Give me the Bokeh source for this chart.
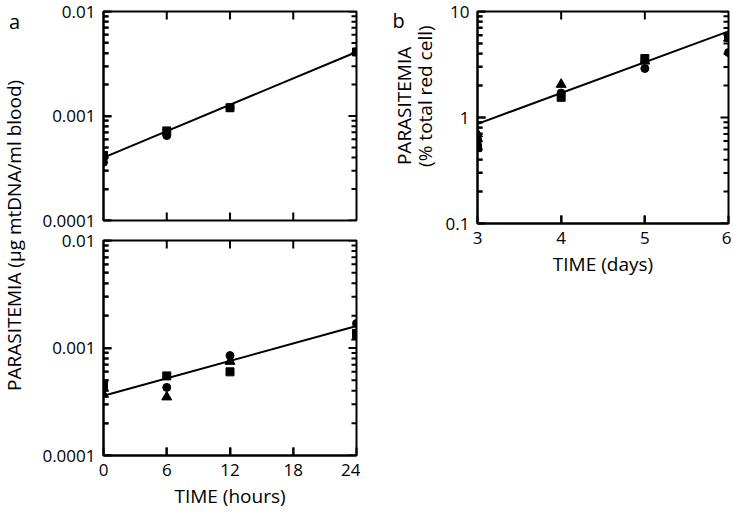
from bokeh.plotting import figure
from bokeh.models import FixedTicker, Label, Range1d
from bokeh.layouts import row, column
from bokeh.embed import file_html
from bokeh.resources import INLINE
import math

FONT = "Open Sans"

# ---------------- data ----------------
# Panel a (top): time in hours
a1_t = [0, 6, 12, 24]
a1_square = [0.00042, 0.00072, 0.0012, 0.0041]
a1_circle = [0.00036, 0.00065, 0.0012, 0.0041]
a1_fit_t = [0, 24]
a1_fit = [0.00040, 0.0041]

# Panel a (bottom)
a2_t = [0, 6, 12, 24]
a2_square = [0.00045, 0.00055, 0.00060, 0.00137]
a2_circle = [0.00043, 0.00043, 0.00085, 0.00169]
a2_triangle = [0.00037, 0.00035, 0.00075, 0.00126]
a2_fit_t = [0, 24]
a2_fit = [0.00036, 0.0016]

# Panel b: time in days, % parasitemia
b_t = [3, 4, 5, 6]
b_square = [0.52, 1.55, 3.6, 5.7]
b_circle = [0.62, 1.7, 2.9, 4.1]
b_triangle = [0.70, 2.05, 3.4, 5.6]
b_fit_t = [3, 6]
b_fit = [0.87, 6.5]

a_x_ticks = [0, 6, 12, 18, 24]
a_y_ticks = [0.0001, 0.001, 0.01]
a_y_labels = ["0.0001", "0.001", "0.01"]
b_x_ticks = [3, 4, 5, 6]
b_y_ticks = [0.1, 1, 10]
b_y_labels = ["0.1", "1", "10"]

TICK_FS = "17px"
LAB_FS = "19px"
MAJ = 8   # major tick length, px
MIN = 5   # minor tick length, px
TW = 2    # tick thickness, px


def minor_log(lo_exp, hi_exp):
    out = []
    for e in range(lo_exp, hi_exp):
        for k in range(2, 10):
            out.append(float(f"{k}e{e}"))
    return out


def style_axis(ax):
    ax.axis_line_width = 2
    ax.axis_line_color = "black"
    ax.major_tick_in = MAJ
    ax.major_tick_out = 0
    ax.minor_tick_in = MIN
    ax.minor_tick_out = 0
    ax.major_tick_line_width = 2
    ax.minor_tick_line_width = 2
    ax.major_tick_line_color = "black"
    ax.minor_tick_line_color = "black"
    ax.major_label_text_font = FONT
    ax.major_label_text_font_size = TICK_FS
    ax.major_label_text_color = "black"
    ax.major_label_standoff = 8
    ax.axis_label_text_font = FONT
    ax.axis_label_text_font_size = LAB_FS
    ax.axis_label_text_font_style = "normal"
    ax.axis_label_text_color = "black"


def make_panel(width, height, xr, yr, xticks, yticks, ylabels, ylo, yhi,
               show_xlabels, xlabel, borders):
    bl, br, bt, bb = borders
    fw = width - bl - br
    fh = height - bt - bb
    p = figure(width=width, height=height, x_range=Range1d(*xr),
               y_range=Range1d(*yr), y_axis_type="log",
               output_backend="svg", toolbar_location=None,
               min_border_left=bl, min_border_right=br,
               min_border_top=bt, min_border_bottom=bb)
    p.grid.visible = False
    p.outline_line_color = "black"
    p.outline_line_width = 2
    p.background_fill_color = "white"
    p.border_fill_color = "white"
    minors = minor_log(ylo, yhi)
    p.xaxis.ticker = FixedTicker(ticks=xticks, minor_ticks=[])
    p.yaxis.ticker = FixedTicker(ticks=yticks, minor_ticks=minors)
    p.yaxis.major_label_overrides = {float(t): l for t, l in zip(yticks, ylabels)}
    for ax in p.yaxis:
        style_axis(ax)
    for ax in p.xaxis:
        style_axis(ax)
        if show_xlabels:
            ax.axis_label = xlabel
            ax.axis_label_standoff = 4
        else:
            ax.visible = False

    # inward tick marks as small filled bars on all four sides
    dxp = (xr[1] - xr[0]) / fw                          # data units per px (x)
    dyp = (math.log10(yr[1]) - math.log10(yr[0])) / fh  # decades per px (y)
    ys = list(yticks) + minors
    lens = [MAJ] * len(yticks) + [MIN] * len(minors)
    hx, hy, hw = [], [], []
    for y, L in zip(ys, lens):
        hx.append(xr[1] - (L / 2) * dxp); hy.append(y); hw.append(L)
        hx.append(xr[0] + (L / 2) * dxp); hy.append(y); hw.append(L)
    p.rect(x=hx, y=hy, width=hw, height=TW, width_units="screen",
           height_units="screen", fill_color="black", line_color=None)
    xt = [t for t in xticks if xr[0] < t < xr[1]]
    vx, vy = [], []
    for t in xt:
        vx.append(t); vy.append(yr[1] / 10 ** ((MAJ / 2) * dyp))
        vx.append(t); vy.append(yr[0] * 10 ** ((MAJ / 2) * dyp))
    p.rect(x=vx, y=vy, width=TW, height=MAJ, width_units="screen",
           height_units="screen", fill_color="black", line_color=None)
    return p


def add_marks(p, t, sq=None, ci=None, tr=None, fit_t=None, fit=None):
    if fit is not None:
        p.line(fit_t, fit, line_color="black", line_width=2)
    if tr is not None:
        p.scatter(t, tr, marker="triangle", size=10, color="black")
    if ci is not None:
        p.scatter(t, ci, marker="circle", size=8, color="black")
    if sq is not None:
        p.scatter(t, sq, marker="square", size=8, color="black")


def blank(width, height):
    f = figure(width=width, height=height, x_range=Range1d(0, width),
               y_range=Range1d(0, height), output_backend="svg",
               toolbar_location=None, min_border=0,
               x_axis_location=None, y_axis_location=None)
    f.grid.visible = False
    f.outline_line_color = None
    return f


# ---------------- panel a ----------------
pa1 = make_panel(334, 230, (0, 24), (0.0001, 0.01), a_x_ticks, a_y_ticks,
                 a_y_labels, -4, -2, False, None, (77, 4, 11, 10))
add_marks(pa1, a1_t, sq=a1_square, ci=a1_circle, fit_t=a1_fit_t, fit=a1_fit)

pa2 = make_panel(334, 281, (0, 24), (0.0001, 0.01), a_x_ticks, a_y_ticks,
                 a_y_labels, -4, -2, True, "TIME (hours)", (77, 4, 10, 54))
add_marks(pa2, a2_t, sq=a2_square, ci=a2_circle, tr=a2_triangle,
          fit_t=a2_fit_t, fit=a2_fit)

# label strip for panel a
LA_H = 511
la = blank(26, LA_H)
la.add_layout(Label(x=14, y=LA_H - 12, text="a", text_font=FONT, text_font_size="20px",
                    text_align="center", text_baseline="middle", text_color="black"))
la.add_layout(Label(x=13, y=LA_H - 260, text="PARASITEMIA (\u03bcg mtDNA/ml blood)",
                    angle=math.pi / 2, text_font=FONT, text_font_size=LAB_FS,
                    text_align="center", text_baseline="middle", text_color="black"))

# ---------------- panel b ----------------
PB_H = 283
pb = make_panel(291, PB_H, (3, 6), (0.1, 10), b_x_ticks, b_y_ticks, b_y_labels,
                -1, 1, True, "TIME (days)", (37, 3, 11, 60))
add_marks(pb, b_t, sq=b_square, ci=b_circle, tr=b_triangle,
          fit_t=b_fit_t, fit=b_fit)

lb = blank(80, PB_H)
lb.add_layout(Label(x=38, y=PB_H - 12, text="b", text_font=FONT, text_font_size="20px",
                    text_align="center", text_baseline="middle", text_color="black"))
lb.add_layout(Label(x=43, y=PB_H - 126, text="PARASITEMIA", angle=math.pi / 2,
                    text_font=FONT, text_font_size=LAB_FS, text_align="center",
                    text_baseline="middle", text_color="black"))
lb.add_layout(Label(x=64, y=PB_H - 113, text="(% total red cell)", angle=math.pi / 2,
                    text_font=FONT, text_font_size=LAB_FS, text_align="center",
                    text_baseline="middle", text_color="black"))

layout = row(la, column(pa1, pa2), lb, pb)

open("out.html", "w").write(file_html(layout, INLINE))
